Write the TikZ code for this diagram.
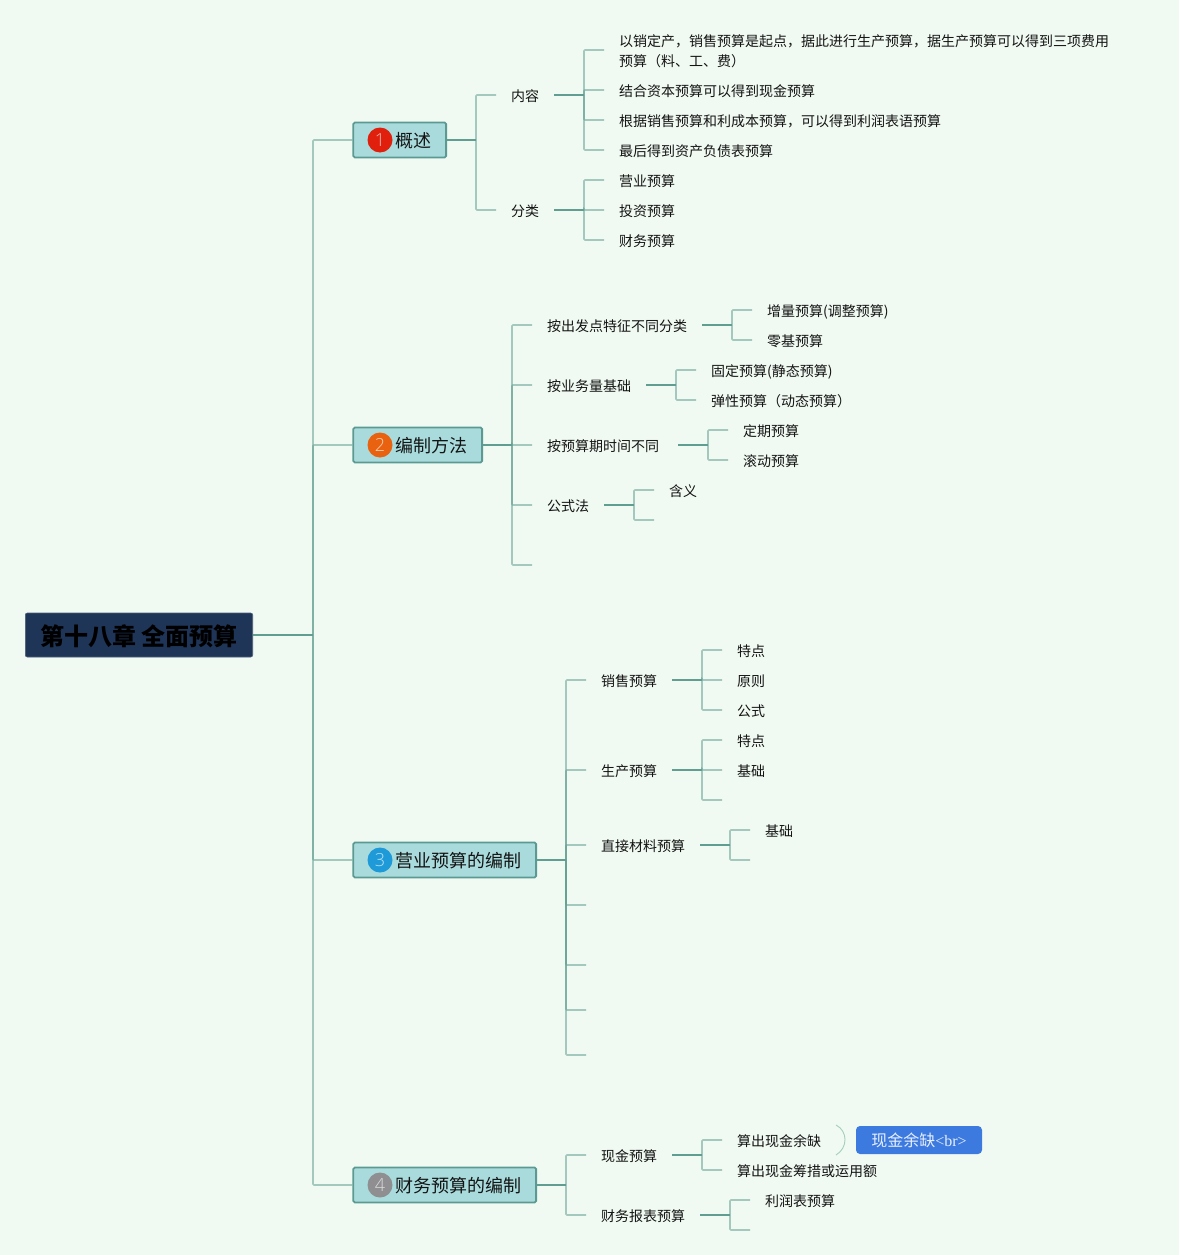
\documentclass[tikz,border=0pt]{standalone}
\usepackage{fontspec}
\setmainfont{Noto Sans CJK SC}
\newfontfamily\numfont{Open Sans Light}
\newfontfamily\serfont{Liberation Serif}
\definecolor{bgc}{HTML}{F0FAF2}
\definecolor{darkln}{HTML}{5F9E90}
\definecolor{lightln}{HTML}{A3CFBC}
\definecolor{boxfill}{HTML}{A9DBDC}
\definecolor{boxline}{HTML}{5B9A92}
\definecolor{rootfill}{HTML}{1F3558}
\definecolor{bluebox}{HTML}{3C7AE0}
\definecolor{ired}{HTML}{E0200C}
\definecolor{iorange}{HTML}{E8620F}
\definecolor{iblue}{HTML}{1E9AD8}
\definecolor{igray}{HTML}{8F8F92}
\definecolor{inktext}{HTML}{141414}
\tikzset{
  x=1pt,y=-1pt,
  leaf/.style={anchor=west,inner xsep=15pt,inner ysep=0pt,font=\fontsize{14pt}{20pt}\selectfont,text=inktext,text height=15pt,text depth=2.4pt,align=left},
  topic/.style={anchor=west,draw=boxline,line width=1.8pt,fill=boxfill,rounded corners=1.5pt,inner sep=0pt,minimum height=35pt,text height=18pt,text depth=2.3pt,font=\fontsize{18pt}{20pt}\selectfont,text=inktext},
  badge/.style={circle,inner sep=0pt,minimum size=25pt,font=\numfont\fontsize{18pt}{18pt}\selectfont},
  rootbox/.style={anchor=east,fill=rootfill,draw=rootfill!80!white,line width=.6pt,rounded corners=2pt,inner xsep=15pt,minimum height=44pt,inner ysep=0pt,text height=23pt,text depth=2.8pt,font=\fontsize{24pt}{26pt}\selectfont\bfseries,text=black},
  stem/.style={draw=darkln,line width=1.6pt},
  branch/.style={draw=darkln,draw opacity=.53,line width=1.6pt,rounded corners=1pt},
  callout/.style={fill=bluebox,rounded corners=4pt,inner sep=0pt,minimum width=126pt,minimum height=28pt,text=white!88!bluebox,font=\fontsize{16pt}{18pt}\selectfont},
  hug/.style={draw=lightln,line width=.9pt}
}
\newcommand{\fan}[3]{%
  \coordinate (T) at (#2,0);
  \foreach \c in {#3} {\draw[branch] (T |- #1.east) |- (\c.west);}
  \draw[stem] (#1.east) -- (T |- #1.east);
}
\begin{document}
\begin{tikzpicture}
\useasboundingbox[fill=bgc] (0,0) rectangle (1179,1255);
% root and topics
\node[rootbox] (root) at (253,635) {第十八章\hspace*{5.4pt}全面预算};
\node[topic] (a) at (352.4,140) {\hspace*{42.6pt}概述\hspace*{14.2pt}};
\node[topic] (b) at (352.4,445) {\hspace*{42.6pt}编制方法\hspace*{14.2pt}};
\node[topic] (c) at (352.4,860) {\hspace*{42.6pt}营业预算的编制\hspace*{14.2pt}};
\node[topic] (d) at (352.4,1185) {\hspace*{42.6pt}财务预算的编制\hspace*{14.2pt}};
\node[badge,fill=ired,text=white!70!ired] (ai) at (380,140) {1};
\node[badge,fill=iorange,text=white!70!iorange] (bi) at (380,445) {2};
\node[badge,fill=iblue,text=white!70!iblue] (ci) at (380,860) {3};
\node[badge,fill=igray,text=white!70!igray] (di) at (380,1185) {4};
% section 1
\node[leaf] (a1) at (496,95) {内容};
\node[leaf] (a2) at (496,210) {分类};
\node[leaf,text height=35pt] (a11) at (604,50) {以销定产，销售预算是起点，据此进行生产预算，据生产预算可以得到三项费用\\预算（料、工、费）};
\node[leaf] (a12) at (604,90) {结合资本预算可以得到现金预算};
\node[leaf] (a13) at (604,120) {根据销售预算和利成本预算，可以得到利润表语预算};
\node[leaf] (a14) at (604,150) {最后得到资产负债表预算};
\node[leaf] (a21) at (604,180) {营业预算};
\node[leaf] (a22) at (604,210) {投资预算};
\node[leaf] (a23) at (604,240) {财务预算};
% section 2
\node[leaf] (b1) at (532,325) {按出发点特征不同分类};
\node[leaf] (b2) at (532,385) {按业务量基础};
\node[leaf] (b3) at (532,445) {按预算期时间不同\hspace*{4pt}};
\node[leaf] (b4) at (532,505) {公式法};
\coordinate (b5) at (532,565);
\node[leaf] (b11) at (752,310) {增量预算(调整预算)};
\node[leaf] (b12) at (752,340) {零基预算};
\node[leaf] (b21) at (696,370) {固定预算(静态预算)};
\node[leaf] (b22) at (696,400) {弹性预算（动态预算）};
\node[leaf] (b31) at (728,430) {定期预算};
\node[leaf] (b32) at (728,460) {滚动预算};
\node[leaf] (b41) at (654,490) {含义};
\coordinate (b42) at (654,520);
% section 3
\node[leaf] (c1) at (586,680) {销售预算};
\node[leaf] (c2) at (586,770) {生产预算};
\node[leaf] (c3) at (586,845) {直接材料预算};
\coordinate (c4) at (586,905);
\coordinate (c5) at (586,965);
\coordinate (c6) at (586,1010);
\coordinate (c7) at (586,1055);
\node[leaf] (c11) at (722,650) {特点};
\node[leaf] (c12) at (722,680) {原则};
\node[leaf] (c13) at (722,710) {公式};
\node[leaf] (c21) at (722,740) {特点};
\node[leaf] (c22) at (722,770) {基础};
\coordinate (c23) at (722,800);
\node[leaf] (c31) at (750,830) {基础};
\coordinate (c32) at (750,860);
% section 4
\node[leaf] (d1) at (586,1155) {现金预算};
\node[leaf] (d2) at (586,1215) {财务报表预算};
\node[leaf] (d11) at (722,1140) {算出现金余缺};
\node[leaf] (d12) at (722,1170) {算出现金筹措或运用额};
\node[leaf] (d21) at (750,1200) {利润表预算};
\coordinate (d22) at (750,1230);
\node[callout] (note) at (919,1140) {现金余缺{\serfont <br>}};
\coordinate (hugtop) at (836,1125);
\coordinate (hugbot) at (836,1155);
% connectors
\fan{root}{313}{a,b,c,d}
\fan{a}{476}{a1,a2}
\fan{a1}{584}{a11,a12,a13,a14}
\fan{a2}{584}{a21,a22,a23}
\fan{b}{512}{b1,b2,b3,b4,b5}
\fan{b1}{732}{b11,b12}
\fan{b2}{676}{b21,b22}
\fan{b3}{708}{b31,b32}
\fan{b4}{634}{b41,b42}
\fan{c}{566}{c1,c2,c3,c4,c5,c6,c7}
\fan{c1}{702}{c11,c12,c13}
\fan{c2}{702}{c21,c22,c23}
\fan{c3}{730}{c31,c32}
\fan{d}{566}{d1,d2}
\fan{d1}{702}{d11,d12}
\fan{d2}{730}{d21,d22}
\draw[hug] (hugtop) .. controls (848,1131) and (848,1148) .. (hugbot);
\end{tikzpicture}
\end{document}
